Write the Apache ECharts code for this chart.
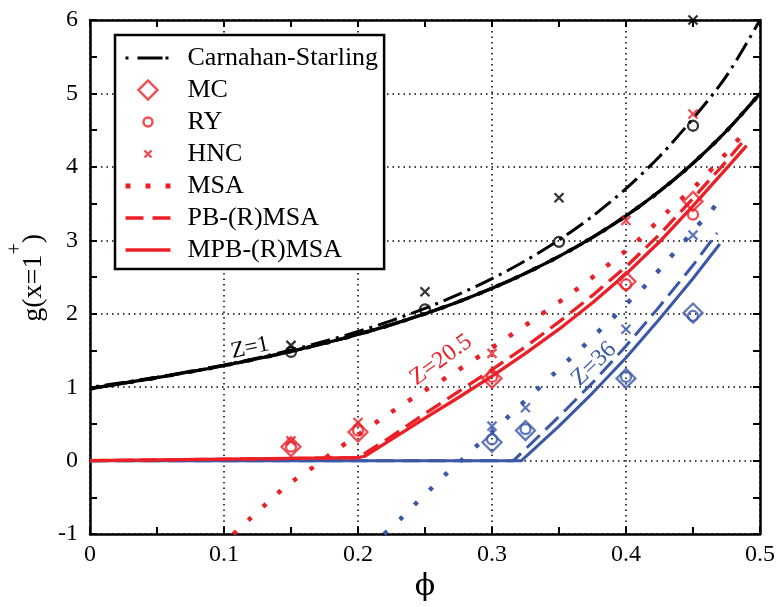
<!DOCTYPE html>
<html><head><meta charset="utf-8">
<script src="https://cdn.jsdelivr.net/npm/echarts@6/dist/echarts.min.js"></script>
<style>html,body{margin:0;padding:0;background:#fff}#c{width:781px;height:607px}</style>
</head><body><div id="c"></div>
<script>
// ---------- data ----------
const xTicks = [0, 0.1, 0.2, 0.3, 0.4, 0.5];
const yTicks = [-1, 0, 1, 2, 3, 4, 5, 6];

// Z = 1
const phiZ1 = [0,0.025,0.05,0.075,0.1,0.125,0.15,0.175,0.2,0.225,0.25,0.275,0.3,0.325,0.35,0.375,0.4,0.425,0.45,0.475,0.5];
const gCS  = [1.0,1.065,1.137,1.216,1.303,1.399,1.506,1.625,1.758,1.907,2.074,2.263,2.478,2.723,3.004,3.328,3.704,4.142,4.658,5.239,6.0];
const gZ1  = [0.98,1.055,1.13,1.21,1.295,1.388,1.488,1.598,1.719,1.852,2.0,2.164,2.347,2.551,2.781,3.04,3.333,3.667,4.05,4.49,5.0];
const phiZ1Pts = [0.15,0.25,0.35,0.45];
const gZ1RY  = [1.48,2.06,2.98,4.56];
const gZ1HNC = [1.57,2.30,3.58,6.0];

// Z = 20.5
const phiRedMPB = [0,0.1,0.2,0.205,0.225,0.25,0.275,0.3,0.325,0.35,0.375,0.4,0.425,0.45,0.475,0.49];
const gRedMPB   = [0.0,0.02,0.04,0.06,0.29,0.58,0.86,1.15,1.46,1.79,2.15,2.54,2.98,3.47,3.98,4.29];
const phiRedPB  = [0,0.1,0.2,0.225,0.25,0.275,0.3,0.325,0.35,0.375,0.4,0.425,0.45,0.475,0.488];
const gRedPB    = [0.0,0.02,0.04,0.33,0.64,0.94,1.24,1.55,1.89,2.25,2.64,3.08,3.57,4.08,4.36];
const phiRedMSA = [0.107,0.12,0.132,0.143,0.155,0.168,0.181,0.2,0.219,0.245,0.271,0.31,0.335,0.36,0.385,0.409,0.431,0.454,0.475,0.486];
const gRedMSA   = [-1.0,-0.78,-0.58,-0.40,-0.23,-0.07,0.11,0.35,0.59,0.9,1.19,1.66,1.97,2.29,2.64,3.0,3.39,3.78,4.19,4.42];
const phiRedPts = [0.15,0.2,0.3,0.4,0.45];
const gRedMC  = [0.19,0.39,1.12,2.44,3.53];
const gRedRY  = [0.19,0.41,1.14,2.40,3.35];
const gRedHNC = [0.27,0.52,1.46,3.27,4.72];

// Z = 36
const phiBlueMPB = [0,0.322,0.35,0.375,0.4,0.425,0.45,0.47];
const gBlueMPB   = [0,0,0.47,0.92,1.4,1.93,2.48,2.95];
const phiBluePB  = [0,0.316,0.35,0.375,0.4,0.425,0.45,0.468];
const gBluePB    = [0,0,0.6,1.06,1.56,2.1,2.66,3.1];
const phiBlueMSA = [0.2195,0.2325,0.2433,0.254,0.2657,0.2769,0.288,0.311,0.322,0.3333,0.3448,0.356,0.3677,0.3784,0.39,0.4,0.4116,0.4216,0.431,0.442,0.452,0.4627,0.4714];
const gBlueMSA   = [-1.0,-0.78,-0.58,-0.39,-0.18,0.0,0.19,0.58,0.77,0.96,1.16,1.35,1.55,1.74,1.94,2.13,2.33,2.53,2.73,2.95,3.17,3.38,3.59];
const phiBluePts = [0.3,0.325,0.4,0.45];
const gBlueMC  = [0.25,0.41,1.12,2.01];
const gBlueRY  = [0.29,0.43,1.14,1.97];
const gBlueHNC = [0.47,0.72,1.79,3.07];

// ---------- styles ----------
const RED = '#ec1f27', BLUE = '#3a58a7', BLACK = '#000000';
const SERIF = 'Liberation Serif, Times New Roman, serif';
const DOT_RED = [4.5, 15.5], DOT_BLUE = [4.5, 16.5];
const CROSS = 'path://M0,0L10,10M10,0L0,10';

function pairs(xs, ys) { return xs.map((x, i) => [x, ys[i]]); }
function line(name, xs, ys, color, type, width, smooth, extra) {
  return Object.assign({
    type: 'line', name, data: pairs(xs, ys), symbol: 'none', showSymbol: false,
    smooth: smooth || false, silent: true, z: 2,
    lineStyle: { color, width, type, cap: 'butt', join: 'round' },
    itemStyle: { color }, emphasis: { disabled: true }
  }, extra || {});
}
function scat(name, xs, ys, color, symbol, size) {
  return {
    type: 'scatter', name, data: pairs(xs, ys), symbol, symbolSize: size, silent: true, z: 4,
    itemStyle: { color: 'transparent', borderColor: color, borderWidth: 2.3 },
    emphasis: { disabled: true }
  };
}

const series = [
  line('Carnahan-Starling', phiZ1, gCS, BLACK, [20, 6, 3, 6], 3, 0.3, { lineStyle: { color: BLACK, width: 3, type: [20, 6, 3, 6], dashOffset: 20, cap: 'butt' } }),
  line('MSA Z1', phiZ1, gZ1, BLACK, DOT_RED, 4, 0.3),
  line('PB Z1', phiZ1, gZ1, BLACK, [17, 8], 3.2, 0.3),
  line('MPB Z1', phiZ1, gZ1, BLACK, 'solid', 3.2, 0.3),

  line('MSA Z36', phiBlueMSA, gBlueMSA, BLUE, DOT_BLUE, 4.5, 0.3),
  line('PB Z36', phiBluePB, gBluePB, BLUE, [18, 8], 3, false),
  line('MPB Z36', phiBlueMPB, gBlueMPB, BLUE, 'solid', 3, false),

  line('MSA', phiRedMSA, gRedMSA, RED, DOT_RED, 4.5, 0.3),
  line('PB-(R)MSA', phiRedPB, gRedPB, RED, [17, 8], 3.3, false),
  line('MPB-(R)MSA', phiRedMPB, gRedMPB, RED, 'solid', 3.3, false),

  scat('RY Z1', phiZ1Pts, gZ1RY, BLACK, 'circle', 10),
  scat('HNC Z1', phiZ1Pts, gZ1HNC, BLACK, CROSS, 9),

  scat('MC Z36', phiBluePts, gBlueMC, BLUE, 'diamond', 19),
  scat('RY Z36', phiBluePts, gBlueRY, BLUE, 'circle', 10),
  scat('HNC Z36', phiBluePts, gBlueHNC, BLUE, CROSS, 9),

  scat('MC', phiRedPts, gRedMC, RED, 'diamond', 19),
  scat('RY', phiRedPts, gRedRY, RED, 'circle', 10),
  scat('HNC', phiRedPts, gRedHNC, RED, CROSS, 9)
];

function axisBase(min, max, step, pos, showLabel) {
  return {
    type: 'value', min, max, interval: step, position: pos,
    axisLine: { show: true, onZero: false, lineStyle: { color: BLACK, width: 2.5 } },
    axisTick: { show: true, inside: true, length: 7, lineStyle: { color: BLACK, width: 2 } },
    minorTick: { show: true, splitNumber: 2, length: 7, lineStyle: { color: BLACK, width: 2 } },
    axisLabel: { show: showLabel, color: BLACK, fontFamily: SERIF, fontSize: 24 },
    splitLine: { show: false }
  };
}

const xBottom = axisBase(xTicks[0], xTicks[xTicks.length - 1], 0.1, 'bottom', true);
xBottom.axisLabel.margin = 9;
xBottom.splitLine = { show: true, lineStyle: { color: BLACK, width: 1.5, type: [1.5, 4] } };
xBottom.name = 'ϕ';
xBottom.nameLocation = 'middle';
xBottom.nameGap = 36;
xBottom.nameTextStyle = { fontFamily: 'DejaVu Serif, ' + SERIF, fontSize: 30, color: BLACK };
const xTop = axisBase(xTicks[0], xTicks[xTicks.length - 1], 0.1, 'top', false);

const yLeft = axisBase(yTicks[0], yTicks[yTicks.length - 1], 1, 'left', true);
yLeft.axisLabel.margin = 12;
yLeft.splitLine = { show: true, lineStyle: { color: BLACK, width: 1.5, type: [1.5, 4] } };
const yRight = axisBase(yTicks[0], yTicks[yTicks.length - 1], 1, 'right', false);

const NOSYM = { color: 'transparent', borderColor: 'transparent', borderWidth: 0, opacity: 0 };
const legendData = [
  { name: 'Carnahan-Starling', itemStyle: NOSYM, lineStyle: { color: BLACK, width: 3.2, type: [3, 9, 25, 3], dashOffset: 0, cap: 'butt' } },
  { name: 'MC', icon: 'path://M0,0M20,20M10,0.5L19.5,10L10,19.5L0.5,10Z', itemStyle: { color: 'transparent', borderColor: RED, borderWidth: 2.4 } },
  { name: 'RY', icon: 'path://M0,0M20,20M14.5,10A4.5,4.5,0,1,1,5.5,10A4.5,4.5,0,1,1,14.5,10Z', itemStyle: { color: 'transparent', borderColor: RED, borderWidth: 2.4 } },
  { name: 'HNC', icon: 'path://M0,0M20,20M6.5,6.5L13.5,13.5M13.5,6.5L6.5,13.5', itemStyle: { color: 'transparent', borderColor: RED, borderWidth: 2.4 } },
  { name: 'MSA', itemStyle: NOSYM, lineStyle: { color: RED, width: 5, type: [5, 15], dashOffset: 0, cap: 'butt' } },
  { name: 'PB-(R)MSA', itemStyle: NOSYM, lineStyle: { color: RED, width: 3.5, type: [18, 9], dashOffset: 0, cap: 'butt' } },
  { name: 'MPB-(R)MSA', itemStyle: NOSYM, lineStyle: { color: RED, width: 3.5, type: 'solid', cap: 'butt' } }
];

const chart = echarts.init(document.getElementById('c'), null, { renderer: 'canvas' });
chart.setOption({
  animation: false,
  backgroundColor: '#ffffff',
  grid: { left: 90, top: 20, right: 21, bottom: 65, containLabel: false },
  xAxis: [xBottom, xTop],
  yAxis: [yLeft, yRight],
  legend: {
    orient: 'vertical', left: 115, top: 35,
    padding: [10, 6, 6, 8], itemGap: 6, itemWidth: 45, itemHeight: 20,
    borderColor: BLACK, borderWidth: 2.5, backgroundColor: '#ffffff',
    selectedMode: false,
    textStyle: { fontFamily: SERIF, fontSize: 26, color: BLACK, lineHeight: 20, padding: [0, 0, 0, 12] },
    data: legendData
  },
  graphic: [
    { type: 'text', x: 27, y: 278, rotation: Math.PI / 2, silent: true,
      style: { text: '{z| }{a|g(x=1}{s|+}{a|)}', align: 'center', verticalAlign: 'middle', fill: BLACK,
        rich: {
          z: { fontSize: 1, lineHeight: 42, fontFamily: SERIF },
          a: { fontSize: 28, lineHeight: 30, fontFamily: SERIF, verticalAlign: 'bottom', fill: BLACK },
          s: { fontSize: 20, lineHeight: 20, fontFamily: SERIF, verticalAlign: 'top', fill: BLACK }
        } } },
    { type: 'text', x: 250, y: 348, rotation: 12 * Math.PI / 180, silent: true,
      style: { text: 'Z=1', font: '23px ' + SERIF, fill: BLACK, align: 'center', verticalAlign: 'middle' } },
    { type: 'text', x: 441, y: 360, rotation: 36 * Math.PI / 180, silent: true,
      style: { text: 'Z=20.5', font: '24px ' + SERIF, fill: RED, align: 'center', verticalAlign: 'middle' } },
    { type: 'text', x: 594, y: 364, rotation: 44 * Math.PI / 180, silent: true,
      style: { text: 'Z=36', font: '24px ' + SERIF, fill: BLUE, align: 'center', verticalAlign: 'middle' } }
  ],
  series
});
</script>
</body></html>
